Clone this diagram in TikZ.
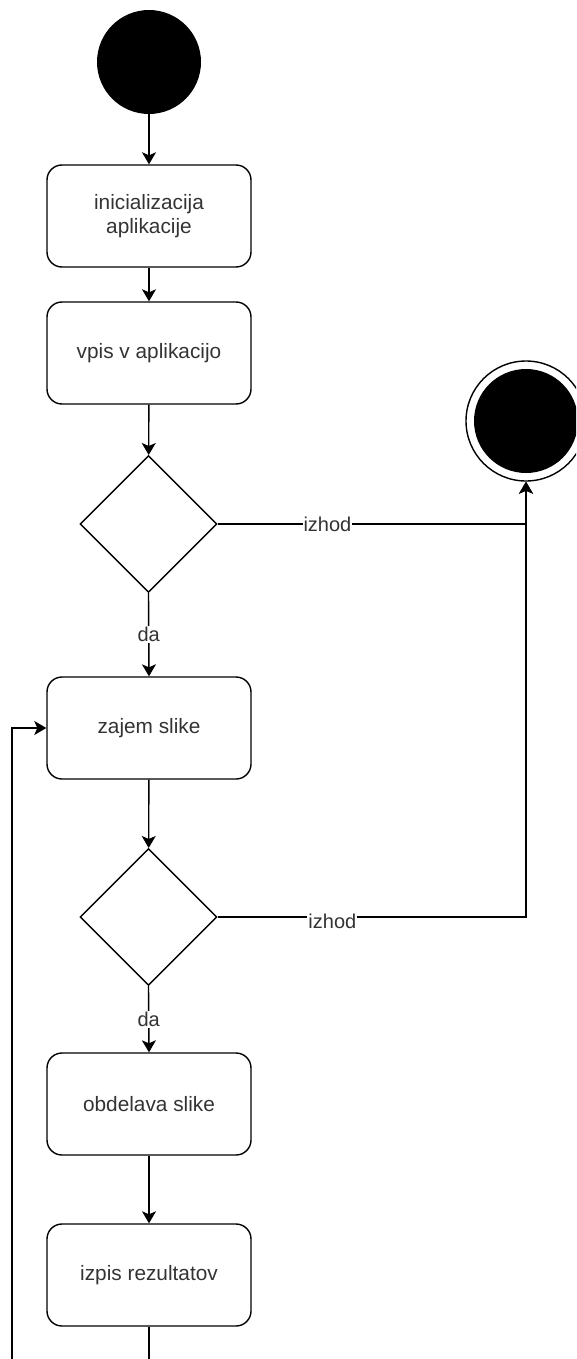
\documentclass[tikz,border=0pt]{standalone}
\usepackage{fontspec}
\setmainfont{Liberation Sans}
\usetikzlibrary{shapes.geometric, arrows.meta}
\definecolor{txt}{HTML}{333333}
\tikzset{
  activity/.style={draw, rounded corners=15pt, minimum width=204pt, minimum height=102pt,
    line width=1.4pt, align=center, text=txt, font=\fontsize{20.8}{24}\selectfont},
  decision/.style={draw, diamond, aspect=1, minimum size=137pt, inner sep=0pt, line width=1.4pt},
  initial/.style={circle, fill=black, minimum size=104pt, inner sep=0pt},
  flow/.style={line width=1.4pt, -{Stealth[length=12pt, width=14pt, inset=3pt]}},
  edgelabel/.style={fill=white, text=txt, inner sep=1pt, font=\fontsize{20}{22}\selectfont}
}
\begin{document}
\begin{tikzpicture}[x=1pt, y=-1pt]
  \useasboundingbox (0,0) rectangle (576,1359);
  \clip (0,0) rectangle (576,1359);

  % start and end states
  \node[initial] (start) at (149,62) {};
  \node[circle, draw, line width=1.4pt, minimum size=120pt, inner sep=0pt] (final) at (526,421) {};
  \node[initial] (finalin) at (526,421) {};

  % activities and decisions
  \node[activity] (init) at (149,216) {inicializacija\\ aplikacije};
  \node[activity] (vpis) at (149,353) {vpis v aplikacijo};
  \node[decision] (d1) at (148.5,524) {};
  \node[activity] (zajem) at (149,728) {zajem slike};
  \node[decision] (d2) at (148.5,917) {};
  \node[activity] (obd) at (149,1104) {obdelava slike};
  \node[activity] (izpis) at (149,1275) {izpis rezultatov};

  % loose ends running off the bottom edge
  \coordinate (loopstart) at (12,1370);
  \coordinate (tail) at (149,1370);

  % main flow
  \draw[flow] (start) -- (init);
  \draw[flow] (init) -- (vpis);
  \draw[flow] (vpis) -- (d1);
  \draw[flow] (d1.south) -- node[edgelabel] {da} (zajem.north);
  \draw[flow] (zajem) -- (d2);
  \draw[flow] (d2.south) -- node[edgelabel] {da} (obd.north);
  \draw[flow] (obd) -- (izpis);
  \draw[line width=1.4pt] (izpis.south) -- (tail);

  % exits to the final state
  \draw[flow] (d1.east) -- node[edgelabel, pos=0.356] {izhod} (d1.east -| final.south) -- (final.south);
  \draw[flow] (d2.east) -- node[edgelabel, pos=0.372, yshift=-4pt] {izhod} (d2.east -| final.south) -- (final.south);

  % loop back to image capture
  \draw[flow] (loopstart) |- (zajem.west);
\end{tikzpicture}
\end{document}
